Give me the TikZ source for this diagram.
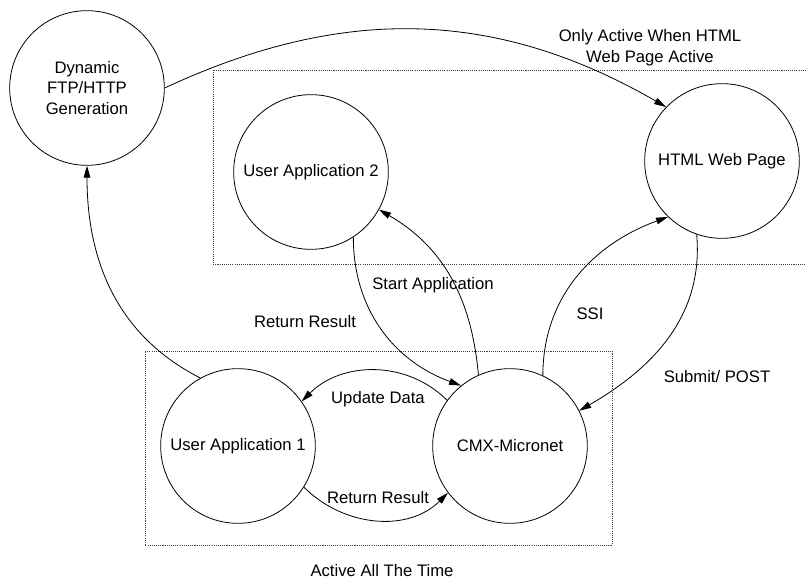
\documentclass[tikz,border=0pt]{standalone}
\usepackage{fontspec}
\setmainfont{Liberation Sans}
\usetikzlibrary{positioning}
\usetikzlibrary{arrows.meta}

\begin{document}
\begin{tikzpicture}[x=0.75pt, y=0.75pt,
  main/.style = {draw, circle, minimum size=116pt, inner sep=0pt, align=center, line width=0.6pt},
  flow/.style = {-{Triangle[length=9pt, width=5pt]}, line width=0.6pt},
  area/.style = {line width=0.6pt, dash pattern=on 0.8pt off 0.8pt, black!75},
  lbl/.style = {align=center, inner sep=0pt},
  font=\fontsize{12.5}{15.5}\selectfont]
\useasboundingbox (0,0) rectangle (806,581);
% groups
\draw[area] (806,511) -- (213,511) -- (213,317) -- (806,317);
\draw[area] (145,36) rectangle (612,230);
% states
\node[main] (dyn) at (87,493) {Dynamic\\FTP/HTTP\\Generation};
\node[main] (ua2) at (311,409) {User Application 2};
\node[main] (html) at (722,420) {HTML Web Page};
\node[main] (ua1) at (238,135) {User Application 1};
\node[main] (cmx) [right of=ua1, node distance=204pt] {CMX-Micronet};
% flows
\path (ua1.119) edge [flow, out=153, in=-90] (dyn.-90);
\path (dyn.0) edge [flow, out=25, in=150] (html.136);
\path (cmx.114) edge [flow, out=95, in=-30] (ua2.-29);
\path (ua2.-57) edge [flow, out=-90, in=160] (cmx.129);
\path (cmx.65) edge [flow, out=90, in=200] (html.-134);
\path (html.-109) edge [flow, out=-85, in=30] (cmx.27);
\path (cmx.144) edge [flow, out=135, in=45] (ua1.35);
\path (ua1.-32) edge [flow, out=-45, in=-135] (cmx.-143);
% labels
\node[lbl] (onlyact) at (650,533) {Only Active When HTML\\Web Page Active};
\node[lbl] (startapp) at (433,296) {Start Application};
\node[lbl] (retup) at (305,259) {Return Result};
\node[lbl] (ssi) at (590,267) {SSI};
\node[lbl] (submit) at (717,204) {Submit/ POST};
\node[lbl] (update) at (378,182) {Update Data};
\node[lbl] (retdown) at (378,83) {Return Result};
\node[lbl] (always) at (382,10) {Active All The Time};
\end{tikzpicture}
\end{document}
